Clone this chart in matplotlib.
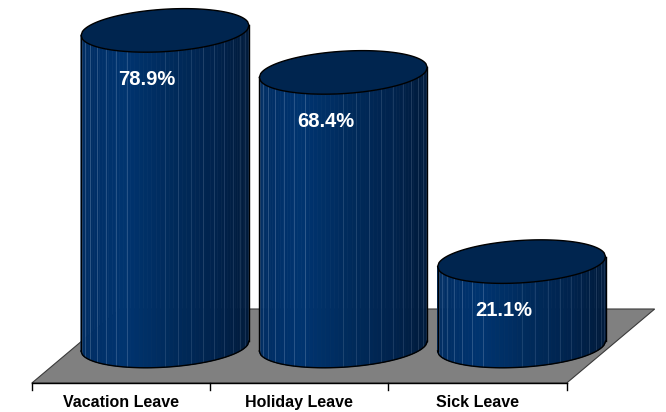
import numpy as np
import matplotlib
matplotlib.use("Agg")
import matplotlib.pyplot as plt
from matplotlib.patches import Polygon
from matplotlib.colors import LinearSegmentedColormap

categories = ["Vacation Leave", "Holiday Leave", "Sick Leave"]
values = [78.9, 68.4, 21.1]
value_labels = ["78.9%", "68.4%", "21.1%"]

plt.rcParams['font.family'] = ['Liberation Sans', 'DejaVu Sans']

# geometry in data units (x = category, y = percent)
RX = 0.471          # cylinder half width
RY = 5.3            # ellipse half height
TILT = 1.25         # right side of ellipses raised by this much
DEPTH_X = 0.4935    # floor depth, horizontal shift
DEPTH_Y = 9.25      # half floor depth, vertical
N_STRIPS = 60

body_cmap = LinearSegmentedColormap.from_list(
    "body", [(0.0, "#002d62"), (0.25, "#003470"), (0.5, "#002c5e"),
             (0.8, "#00234d"), (1.0, "#001b3c")])
TOP_COLOR = "#00254f"


def ell_y(x, cx, cy, sign):
    # y on tilted ellipse, sign=-1 front (lower) arc, +1 back arc
    u = np.clip((x - cx) / RX, -1, 1)
    return cy + TILT * u + sign * RY * np.sqrt(1 - u ** 2)


def cylinder(ax, cx, h):
    theta = np.linspace(np.pi, 0, N_STRIPS + 1)
    xs = cx + RX * np.cos(theta)
    for i in range(N_STRIPS):
        xa = np.linspace(xs[i], xs[i + 1], 4)
        bot = ell_y(xa, cx, 0, -1)
        top = ell_y(xa[::-1], cx, h, -1)
        pts = np.column_stack([np.r_[xa, xa[::-1]], np.r_[bot, top]])
        u = ((xs[i] + xs[i + 1]) / 2 - (cx - RX)) / (2 * RX)
        ax.add_patch(Polygon(pts, closed=True, facecolor=body_cmap(u),
                             edgecolor=body_cmap(u), lw=0.5, zorder=3))
    # facet lines, sparse in the middle like the original
    lt = np.linspace(np.pi, 0, 21)[1:-1]
    for t in lt:
        x = cx + RX * np.cos(t)
        u = (x - (cx - RX)) / (2 * RX)
        if 0.28 < u < 0.45:
            continue
        ax.plot([x, x], [ell_y(x, cx, 0, -1), ell_y(x, cx, h, -1)],
                color="#a8bedc", alpha=0.28 if u < 0.28 else 0.18,
                lw=0.6, zorder=4)
    # outline
    xf = np.linspace(cx - RX, cx + RX, 120)
    ax.plot(xf, ell_y(xf, cx, 0, -1), color="black", lw=1.0, zorder=5)
    ax.plot([cx - RX, cx - RX], [ell_y(cx - RX, cx, 0, -1), ell_y(cx - RX, cx, h, -1)],
            color="black", lw=1.0, zorder=5)
    ax.plot([cx + RX, cx + RX], [ell_y(cx + RX, cx, 0, -1), ell_y(cx + RX, cx, h, -1)],
            color="black", lw=1.0, zorder=5)
    # top
    xt = np.linspace(cx - RX, cx + RX, 120)
    top_pts = np.column_stack([np.r_[xt, xt[::-1]],
                               np.r_[ell_y(xt, cx, h, -1), ell_y(xt[::-1], cx, h, 1)]])
    ax.add_patch(Polygon(top_pts, closed=True, facecolor=TOP_COLOR,
                         edgecolor="black", lw=1.0, zorder=6))


fig = plt.figure(figsize=(6.66, 4.12), dpi=100)
ax = fig.add_axes([0, 0, 1, 1])
ax.set_xlim(-0.679, 3.057)
ax.set_ylim(-16.5, 86.5)
ax.axis("off")

n = len(categories)
# floor
floor = [(-0.5, -DEPTH_Y), (n - 0.5, -DEPTH_Y),
         (n - 0.5 + DEPTH_X, DEPTH_Y), (-0.5 + DEPTH_X, DEPTH_Y)]
ax.add_patch(Polygon(floor, closed=True, facecolor="#808080",
                     edgecolor="#3a3a3a", lw=0.8, zorder=1))
ax.plot([-0.5, n - 0.5], [-DEPTH_Y, -DEPTH_Y], color="black", lw=1.0, zorder=2)
for b in np.arange(-0.5, n, 1.0):
    ax.plot([b, b], [-DEPTH_Y, -DEPTH_Y - 1.8], color="black", lw=1.0, zorder=2)

for i, (cat, v, lab) in enumerate(zip(categories, values, value_labels)):
    cx = i + DEPTH_X / 2
    cylinder(ax, cx, v)
    ax.text(cx - 0.1, v - 12.2, lab, color="white", fontsize=14.5,
            fontweight="bold", ha="center", va="center", zorder=7)
    ax.text(i, -14.2, cat, color="black", fontsize=11.5,
            fontweight="bold", ha="center", va="center")

fig.savefig("out.png", dpi=100)
